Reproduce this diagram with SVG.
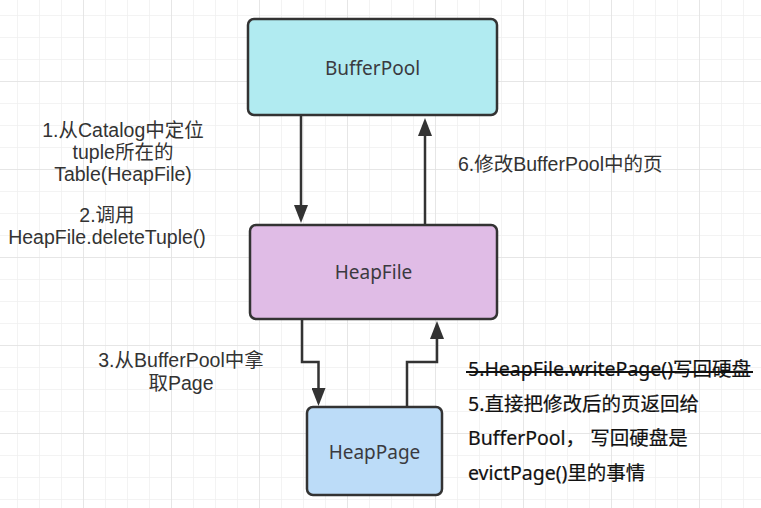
<svg xmlns="http://www.w3.org/2000/svg" width="761" height="508" viewBox="0 0 761 508">
  <defs>
    <pattern id="gridMinor" patternUnits="userSpaceOnUse" x="17" y="15" width="22" height="22">
      <path d="M0,0 V22 M0,0 H22" fill="none" stroke="#efefef" stroke-width="1.5"/>
    </pattern>
    <pattern id="gridMajor" patternUnits="userSpaceOnUse" x="83" y="81" width="88" height="88">
      <path d="M0,0 V88 M0,0 H88" fill="none" stroke="#e2e2e2" stroke-width="1.5"/>
    </pattern>
    <marker id="arrow" viewBox="0 0 18 14" refX="12" refY="7" markerWidth="18" markerHeight="14" markerUnits="userSpaceOnUse" orient="auto">
      <path d="M0,0 L18,7 L0,14 Z" fill="#333333"/>
    </marker>
    <style>
      .box { stroke: #333333; stroke-width: 2.5; }
      .boxlabel { font-family: "Noto Sans", "Open Sans", "Noto Sans CJK SC", sans-serif; font-size: 19px; fill: #3a3a40; text-anchor: middle; }
      .label { font-family: "Liberation Sans", "Noto Sans CJK SC", sans-serif; font-size: 19.5px; fill: #333333; }
      .mid { text-anchor: middle; }
      .note { font-family: "Noto Sans", "Open Sans", "Noto Sans CJK SC", sans-serif; font-size: 19.5px; fill: #111111; stroke: #111111; stroke-width: 0.2; }
      .conn { fill: none; stroke: #333333; stroke-width: 2.5; }
    </style>
  </defs>
  <rect width="761" height="508" fill="#ffffff"/>
  <rect width="761" height="508" fill="url(#gridMinor)"/>
  <rect width="761" height="508" fill="url(#gridMajor)"/>

  <g id="connectors">
    <path class="conn" d="M301,115 V217" marker-end="url(#arrow)"/>
    <path class="conn" d="M425,225 V124" marker-end="url(#arrow)"/>
    <path class="conn" d="M302,319 V362 H318.5 V400" marker-end="url(#arrow)"/>
    <path class="conn" d="M407,407 V362 H437 V327" marker-end="url(#arrow)"/>
  </g>

  <g id="bufferpool">
    <rect class="box" x="248" y="19" width="249" height="96" rx="6" fill="#b1ebf1"/>
    <text class="boxlabel" x="372.5" y="75">BufferPool</text>
  </g>
  <g id="heapfile">
    <rect class="box" x="250" y="225" width="247" height="94" rx="6" fill="#e0bce6"/>
    <text class="boxlabel" x="373.5" y="279">HeapFile</text>
  </g>
  <g id="heappage">
    <rect class="box" x="307" y="407" width="135" height="88" rx="6" fill="#bcdcf8"/>
    <text class="boxlabel" x="374.5" y="459">HeapPage</text>
  </g>

  <g id="label-1">
    <text class="label mid" x="123" y="137">1.从Catalog中定位</text>
    <text class="label mid" x="123" y="159">tuple所在的</text>
    <text class="label mid" x="123" y="181">Table(HeapFile)</text>
  </g>
  <g id="label-2">
    <text class="label mid" x="107" y="222">2.调用</text>
    <text class="label mid" x="107" y="244">HeapFile.deleteTuple()</text>
  </g>
  <g id="label-6">
    <text class="label" x="458" y="171">6.修改BufferPool中的页</text>
  </g>
  <g id="label-3">
    <text class="label mid" x="181" y="367">3.从BufferPool中拿</text>
    <text class="label mid" x="181" y="390">取Page</text>
  </g>
  <g id="label-5">
    <text class="note" x="468" y="376">5.HeapFile.writePage()写回硬盘</text>
    <line x1="466" y1="372" x2="753" y2="372" stroke="#111111" stroke-width="2.2"/>
    <text class="note" x="468" y="411">5.直接把修改后的页返回给</text>
    <text class="note" x="468" y="445">BufferPool， 写回硬盘是</text>
    <text class="note" x="468" y="480">evictPage()里的事情</text>
  </g>
</svg>
